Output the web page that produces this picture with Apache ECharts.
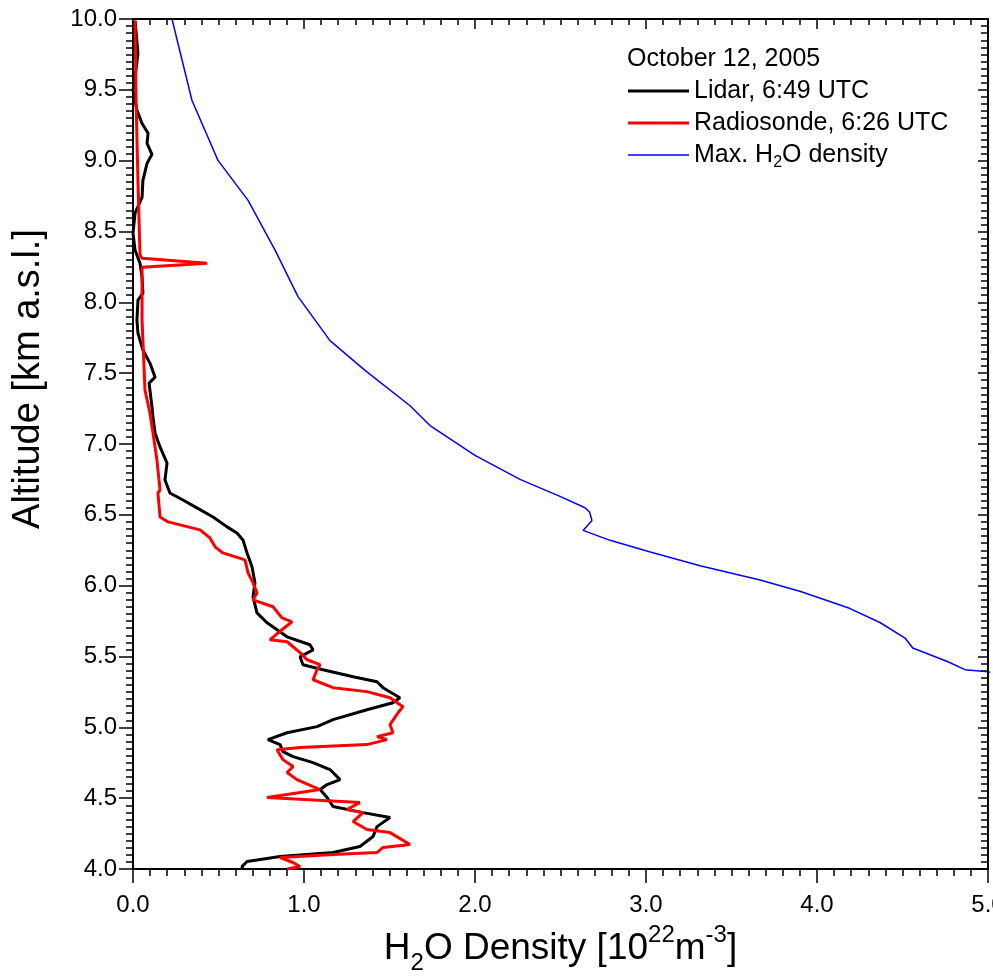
<!DOCTYPE html>
<html>
<head>
<meta charset="utf-8">
<script src="https://cdn.jsdelivr.net/npm/echarts@6/dist/echarts.min.js"></script>
<style>html,body{margin:0;padding:0;background:#fff;}#c{width:993px;height:979px;}</style>
</head>
<body>
<div id="c"></div>
<script>
// Lidar profile (density in 1e22 m^-3, altitude in km)
var lidarDen = [0.012,0.029,0.012,0.0,0.023,0.053,0.088,0.082,0.111,0.082,0.058,0.053,0.012,0.0,0.012,0.041,0.053,0.058,0.029,0.023,0.029,0.058,0.099,0.129,0.094,0.111,0.117,0.129,0.158,0.199,0.187,0.216,0.292,0.374,0.468,0.550,0.608,0.643,0.667,0.696,0.713,0.702,0.725,0.784,0.901,1.035,1.053,0.977,0.994,1.111,1.287,1.427,1.462,1.561,1.520,1.368,1.170,1.076,0.901,0.789,0.860,0.877,0.936,1.053,1.152,1.211,1.135,1.094,1.135,1.170,1.345,1.503,1.427,1.404,1.327,1.170,0.860,0.667,0.637,0.643];
var lidarAlt = [9.989,9.757,9.588,9.496,9.355,9.263,9.193,9.122,9.045,8.981,8.861,8.741,8.629,8.488,8.368,8.276,8.177,8.065,8.015,7.874,7.783,7.663,7.571,7.472,7.430,7.261,7.190,7.077,6.979,6.866,6.746,6.654,6.605,6.549,6.485,6.415,6.372,6.323,6.231,6.133,6.020,5.921,5.808,5.738,5.639,5.583,5.547,5.498,5.442,5.407,5.357,5.322,5.280,5.209,5.174,5.124,5.054,5.005,4.962,4.913,4.878,4.829,4.793,4.751,4.702,4.631,4.596,4.561,4.504,4.441,4.398,4.363,4.299,4.229,4.159,4.116,4.088,4.053,4.017,4.000];
// Radiosonde profile
var sondeDen = [0.012,0.018,0.029,0.041,0.053,0.433,0.053,0.053,0.053,0.058,0.070,0.099,0.117,0.140,0.158,0.146,0.158,0.205,0.392,0.450,0.480,0.526,0.655,0.673,0.702,0.725,0.702,0.819,0.871,0.930,0.871,0.801,0.901,0.977,1.018,1.094,1.076,1.053,1.170,1.368,1.503,1.579,1.550,1.503,1.520,1.427,1.485,1.368,0.977,0.842,0.877,0.936,0.901,0.959,1.053,1.094,0.784,1.327,1.251,1.345,1.287,1.368,1.503,1.620,1.462,1.427,1.170,0.860,0.936,0.977,0.901];
var sondeAlt = [9.989,9.425,8.861,8.333,8.311,8.276,8.248,8.036,7.874,7.733,7.381,7.219,7.077,6.887,6.676,6.654,6.485,6.450,6.394,6.337,6.274,6.231,6.182,6.090,6.020,5.949,5.900,5.851,5.773,5.745,5.689,5.618,5.604,5.527,5.477,5.442,5.407,5.336,5.280,5.252,5.209,5.146,5.103,5.019,4.962,4.934,4.913,4.878,4.857,4.842,4.772,4.723,4.681,4.631,4.582,4.561,4.504,4.469,4.420,4.398,4.335,4.279,4.257,4.173,4.152,4.116,4.102,4.081,4.046,4.017,4.000];
// Maximum H2O density
var maxDen = [0.228,0.345,0.497,0.673,0.830,0.965,1.152,1.357,1.620,1.737,2.000,2.263,2.497,2.643,2.670,2.684,2.632,2.790,3.020,3.316,3.667,3.900,4.190,4.368,4.515,4.560,4.766,4.865,5.000,5.200];
var maxAlt = [10.000,9.425,9.002,8.720,8.370,8.040,7.730,7.520,7.270,7.130,6.920,6.750,6.630,6.550,6.520,6.460,6.390,6.320,6.240,6.140,6.040,5.960,5.840,5.740,5.630,5.560,5.463,5.407,5.393,5.330];

var xTicks = {min: 0, max: 5, interval: 1};
var yTicks = {min: 4, max: 10, interval: 0.5};

function pairs(xs, ys){ return xs.map(function(v,i){ return [v, ys[i]]; }); }

var FONT = '"Liberation Sans", Arial, Helvetica, sans-serif';
var NARROW = '"Liberation Sans Narrow", "Arial Narrow", "Liberation Sans", Arial, sans-serif';
var chart = echarts.init(document.getElementById('c'), null, {renderer: 'canvas'});
var axisLine = {show: true, onZero: false, lineStyle: {color: '#000', width: 2}};

chart.setOption({
  animation: false,
  backgroundColor: '#fff',
  title: {
    text: 'October 12, 2005', left: 627, top: 47, padding: 0,
    textStyle: {fontFamily: FONT, fontSize: 25, fontWeight: 'normal', color: '#000'}
  },
  legend: {
    orient: 'vertical', left: 628, top: 75, padding: 0,
    itemWidth: 61, itemHeight: 3, itemGap: 0,
    data: [
      {name: 'Lidar, 6:49 UTC', icon: 'rect'},
      {name: 'Radiosonde, 6:26 UTC', icon: 'rect'},
      {name: 'Max. H2O density', icon: 'path://M0,0h60v1.6h-60z'}
    ],
    formatter: function(n){
      if (n === 'Max. H2O density') return '{t|Max. H}{s|2}{t|O density}';
      return '{t|' + n + '}';
    },
    textStyle: {
      fontFamily: FONT, fontSize: 25, color: '#000', lineHeight: 32,
      rich: {
        t: {fontFamily: FONT, fontSize: 25, color: '#000', lineHeight: 32, verticalAlign: 'middle'},
        s: {fontFamily: FONT, fontSize: 16, color: '#000', lineHeight: 10, verticalAlign: 'bottom'}
      }
    }
  },
  grid: {left: 133, right: 5, top: 19, bottom: 110, containLabel: false, outerBoundsMode: 'none'},
  xAxis: [{
    type: 'value', position: 'bottom', min: xTicks.min, max: xTicks.max, interval: xTicks.interval,
    axisLine: axisLine,
    axisTick: {show: true, inside: false, length: 14, lineStyle: {color: '#000', width: 1.5}},
    minorTick: {show: true, splitNumber: 10, length: 7, lineStyle: {color: '#000', width: 1.5}},
    splitLine: {show: false}, minorSplitLine: {show: false},
    axisLabel: {margin: 24, fontFamily: NARROW, fontSize: 24, color: '#000', hideOverlap: false,
      formatter: function(v){ return v.toFixed(1); }},
    name: '{n|H}{s|2}{n|O Density [10}{p|22}{n|m}{p|-3}{n|]}',
    nameLocation: 'middle', nameGap: 54,
    nameTextStyle: {
      rich: {
        n: {fontFamily: FONT, fontSize: 37, color: '#000', lineHeight: 52, verticalAlign: 'middle'},
        s: {fontFamily: FONT, fontSize: 24, color: '#000', lineHeight: 14, verticalAlign: 'bottom'},
        p: {fontFamily: FONT, fontSize: 24, color: '#000', lineHeight: 24, verticalAlign: 'top'}
      }
    }
  }, {
    type: 'value', position: 'top', min: xTicks.min, max: xTicks.max, interval: xTicks.interval,
    axisLine: axisLine,
    axisTick: {show: true, inside: true, length: 10, lineStyle: {color: '#000', width: 1.5}},
    minorTick: {show: true, splitNumber: 10, length: 6, lineStyle: {color: '#000', width: 1.5}},
    splitLine: {show: false}, axisLabel: {show: false}
  }],
  yAxis: [{
    type: 'value', position: 'left', min: yTicks.min, max: yTicks.max, interval: yTicks.interval,
    axisLine: axisLine,
    axisTick: {show: true, inside: false, length: 14, lineStyle: {color: '#000', width: 1.5}},
    minorTick: {show: true, splitNumber: 10, length: 7, lineStyle: {color: '#000', width: 1.5}},
    splitLine: {show: false}, minorSplitLine: {show: false},
    axisLabel: {margin: 16, fontFamily: NARROW, fontSize: 24, color: '#000',
      formatter: function(v){ return v.toFixed(1); }}
  }, {
    type: 'value', position: 'right', min: yTicks.min, max: yTicks.max, interval: yTicks.interval,
    axisLine: axisLine,
    axisTick: {show: true, inside: true, length: 10, lineStyle: {color: '#000', width: 1.5}},
    minorTick: {show: true, splitNumber: 10, length: 7, lineStyle: {color: '#000', width: 1.5}},
    splitLine: {show: false}, axisLabel: {show: false}
  }],
  graphic: [{
    type: 'text', x: 29, y: 379, rotation: Math.PI / 2,
    style: {text: 'Altitude [km a.s.l.]', fontFamily: FONT, fontSize: 38, fill: '#000',
      align: 'center', verticalAlign: 'middle'}
  }],
  series: [{
    name: 'Lidar, 6:49 UTC', type: 'line', xAxisIndex: 0, yAxisIndex: 0,
    data: pairs(lidarDen, lidarAlt), showSymbol: false, symbol: 'none', clip: true,
    lineStyle: {color: '#000', width: 3}, itemStyle: {color: '#000'}
  }, {
    name: 'Radiosonde, 6:26 UTC', type: 'line', xAxisIndex: 0, yAxisIndex: 0,
    data: pairs(sondeDen, sondeAlt), showSymbol: false, symbol: 'none', clip: true,
    lineStyle: {color: '#ff0000', width: 3}, itemStyle: {color: '#ff0000'}
  }, {
    name: 'Max. H2O density', type: 'line', xAxisIndex: 0, yAxisIndex: 0,
    data: pairs(maxDen, maxAlt), showSymbol: false, symbol: 'none', clip: true,
    lineStyle: {color: '#0000ff', width: 1.5}, itemStyle: {color: '#0000ff'}
  }]
});
</script>
</body>
</html>
